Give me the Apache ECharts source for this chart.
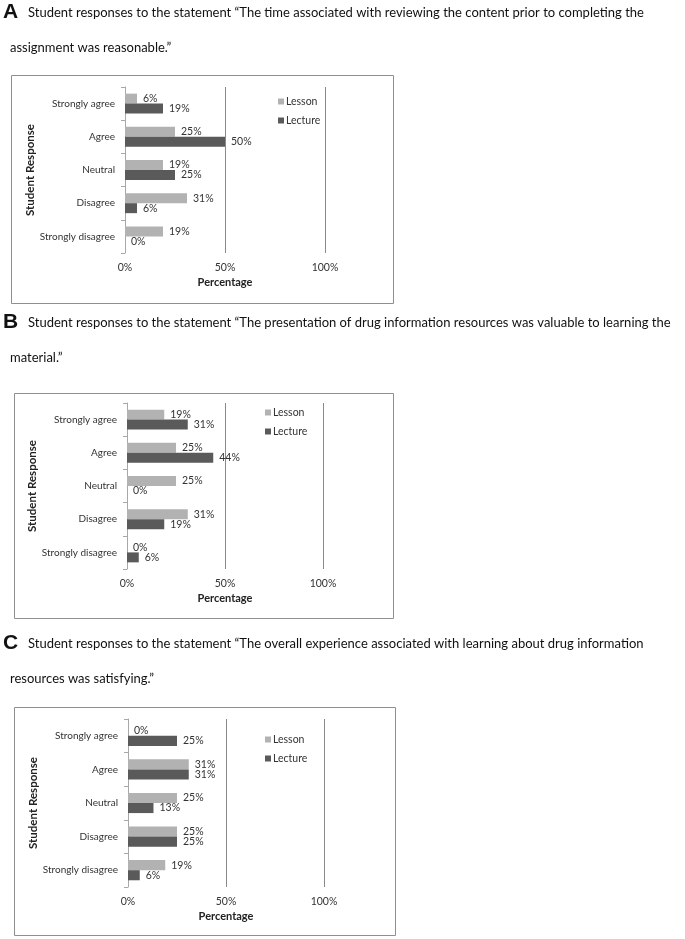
<!DOCTYPE html>
<html>
<head>
<meta charset="utf-8">
<script src="https://cdn.jsdelivr.net/npm/echarts@6/dist/echarts.min.js"></script>
<style>
html,body{margin:0;padding:0;background:#fff;}
#main{width:685px;height:939px;}
</style>
</head>
<body>
<div id="main"></div>
<script>
var categories = ['Strongly agree', 'Agree', 'Neutral', 'Disagree', 'Strongly disagree'];
var xTicks = [0, 50, 100];

var lessonA = [6, 25, 19, 31, 19];
var lectureA = [19, 50, 25, 6, 0];
var lessonB = [19, 25, 25, 31, 0];
var lectureB = [31, 44, 0, 19, 6];
var lessonC = [0, 31, 25, 25, 19];
var lectureC = [25, 31, 13, 25, 6];

var panelLetters = ['A', 'B', 'C'];
var titleLine1 = [
  'Student responses to the statement \u201cThe time associated with reviewing the content prior to completing the',
  'Student responses to the statement \u201cThe presentation of drug information resources was valuable to learning the',
  'Student responses to the statement \u201cThe overall experience associated with learning about drug information'
];
var titleLine2 = [
  'assignment was reasonable.\u201d',
  'material.\u201d',
  'resources was satisfying.\u201d'
];

var FONT = 'Lato, "Open Sans", sans-serif';
var LESSON_COLOR = '#b2b2b2';
var LECTURE_COLOR = '#5a5a5a';

var layout = [
  {box: [11, 75, 382, 228], grid: {left: 125, top: 87, width: 200, height: 166}, legend: {left: 273, top: 90}, t1: 13, t2: 48},
  {box: [14, 393, 379, 225], grid: {left: 127, top: 403, width: 196, height: 166}, legend: {left: 260, top: 401}, t1: 323, t2: 358},
  {box: [14, 707, 381, 228], grid: {left: 128, top: 719, width: 196, height: 168}, legend: {left: 260, top: 728}, t1: 644, t2: 679}
];
var lessonData = [lessonA, lessonB, lessonC];
var lectureData = [lectureA, lectureB, lectureC];

var grids = [], xAxes = [], yAxes = [], series = [], legends = [], graphics = [];

layout.forEach(function (L, i) {
  graphics.push({
    type: 'rect', silent: true,
    shape: {x: L.box[0] + 0.5, y: L.box[1] + 0.5, width: L.box[2], height: L.box[3]},
    style: {fill: 'none', stroke: '#8f8f8f', lineWidth: 1}
  });
  graphics.push({
    type: 'text', left: 3, top: L.t1 - 11,
    style: {text: panelLetters[i], font: 'bold 21px Arial, "Liberation Sans", sans-serif', fill: '#111'}
  });
  graphics.push({
    type: 'text', x: 28, y: L.t1,
    style: {text: titleLine1[i], font: '13px ' + FONT, fill: '#111', textVerticalAlign: 'middle'}
  });
  graphics.push({
    type: 'text', x: 10, y: L.t2,
    style: {text: titleLine2[i], font: '13px ' + FONT, fill: '#111', textVerticalAlign: 'middle'}
  });

  grids.push(Object.assign({containLabel: false}, L.grid));
  xAxes.push({
    type: 'value', gridIndex: i, min: 0, max: 100, interval: 50,
    name: 'Percentage', nameLocation: 'middle', nameGap: 24,
    nameTextStyle: {fontFamily: FONT, fontSize: 11, fontWeight: 'bold', color: '#222'},
    axisLine: {show: false}, axisTick: {show: false},
    axisLabel: {formatter: '{value}%', fontFamily: FONT, fontSize: 10.5, color: '#333', margin: 9},
    splitLine: {show: true, lineStyle: {color: '#8a8a8a', width: 1}}
  });
  yAxes.push({
    type: 'category', gridIndex: i, data: categories, inverse: true,
    name: 'Student Response', nameLocation: 'middle', nameGap: 77, nameRotate: 90,
    nameTextStyle: {fontFamily: FONT, fontSize: 11.5, fontWeight: 'bold', color: '#222'},
    axisLine: {show: true, lineStyle: {color: '#a8a8a8'}},
    axisTick: {show: true, length: 4, lineStyle: {color: '#a8a8a8'}},
    axisLabel: {fontFamily: FONT, fontSize: 10, color: '#333', margin: 10}
  });
  var lbl = {show: true, position: 'right', distance: 6, formatter: '{c}%', fontFamily: FONT, fontSize: 10.5, color: '#333'};
  series.push({
    name: 'Lesson', type: 'bar', xAxisIndex: i, yAxisIndex: i, data: lessonData[i],
    itemStyle: {color: LESSON_COLOR}, barGap: '0%', barCategoryGap: '40%', label: lbl, animation: false
  });
  series.push({
    name: 'Lecture', type: 'bar', xAxisIndex: i, yAxisIndex: i, data: lectureData[i],
    itemStyle: {color: LECTURE_COLOR}, barGap: '0%', barCategoryGap: '40%', label: lbl, animation: false
  });
  legends.push({
    orient: 'vertical', left: L.legend.left, top: L.legend.top,
    data: ['Lesson', 'Lecture'], icon: 'rect', itemWidth: 6, itemHeight: 6, itemGap: 6,
    textStyle: {fontFamily: FONT, fontSize: 10.5, color: '#333', lineHeight: 13, padding: [0, 0, 0, -3]},
    selectedMode: false
  });
});

var chart = echarts.init(document.getElementById('main'), null, {renderer: 'canvas'});
chart.setOption({
  backgroundColor: '#ffffff',
  animation: false,
  grid: grids,
  xAxis: xAxes,
  yAxis: yAxes,
  legend: legends,
  series: series,
  graphic: graphics
});
</script>
</body>
</html>
